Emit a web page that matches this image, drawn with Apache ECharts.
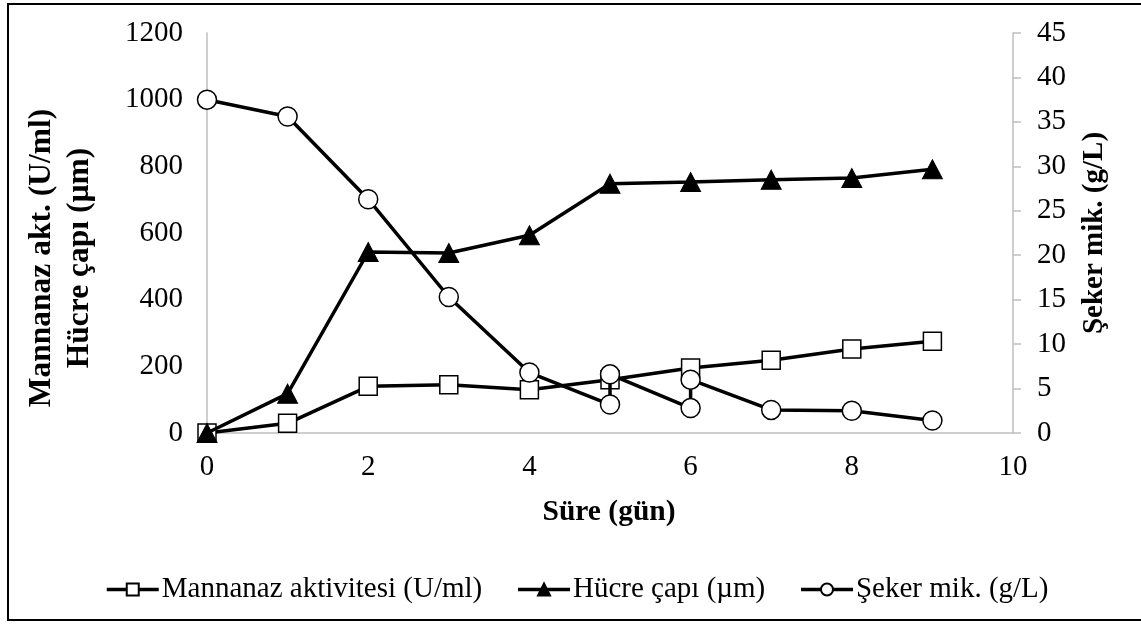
<!DOCTYPE html>
<html>
<head>
<meta charset="utf-8">
<script src="https://cdn.jsdelivr.net/npm/echarts@6/dist/echarts.min.js"></script>
<style>
html,body{margin:0;padding:0;background:#fff;}
#c{width:1141px;height:624px;}
</style>
</head>
<body>
<div id="c"></div>
<script>
// Data
const days = [0, 1, 2, 3, 4, 5, 6, 7, 8, 9];
const mannanaz = [0, 29, 140, 145, 130, 160, 195, 218, 252, 275];
const hucre = [0, 118, 543, 540, 593, 748, 753, 760, 765, 791];
const sekerDays = [0, 1, 2, 3, 4, 5, 5, 6, 6, 7, 8, 9];
const seker = [37.5, 35.6, 26.3, 15.3, 6.8, 3.2, 6.6, 2.8, 6.0, 2.6, 2.5, 1.4];
const xTicks = [0, 2, 4, 6, 8, 10];
const leftTicks = [0, 200, 400, 600, 800, 1000, 1200];
const rightTicks = [0, 5, 10, 15, 20, 25, 30, 35, 40, 45];
const names = ['Mannanaz aktivitesi (U/ml)', 'Hücre çapı (µm)', 'Şeker mik. (g/L)'];

const FONT = "'Liberation Serif', 'Times New Roman', serif";
const chart = echarts.init(document.getElementById('c'), null, {renderer: 'canvas'});
const pair = (xs, ys) => xs.map((x, i) => [x, ys[i]]);
const axisGray = '#BFBFBF';
const plain = v => String(v);

chart.setOption({
  animation: false,
  backgroundColor: '#fff',
  textStyle: {fontFamily: FONT, color: '#000'},
  grid: {left: 207, right: 128, top: 33, bottom: 191, containLabel: false},
  xAxis: {
    type: 'value', min: xTicks[0], max: xTicks[xTicks.length - 1], interval: 2,
    axisLine: {show: true, onZero: false, lineStyle: {color: axisGray, width: 1.5}},
    axisTick: {show: false},
    splitLine: {show: false},
    axisLabel: {fontFamily: FONT, fontSize: 29, color: '#000', margin: 20, formatter: plain}
  },
  yAxis: [
    {
      type: 'value', min: leftTicks[0], max: leftTicks[leftTicks.length - 1], interval: 200,
      axisLine: {show: true, onZero: false, lineStyle: {color: axisGray, width: 1.5}},
      axisTick: {show: false},
      splitLine: {show: false},
      axisLabel: {fontFamily: FONT, fontSize: 29, color: '#000', margin: 24, formatter: plain}
    },
    {
      type: 'value', position: 'right', min: rightTicks[0], max: rightTicks[rightTicks.length - 1], interval: 5,
      axisLine: {show: true, onZero: false, lineStyle: {color: axisGray, width: 1.5}},
      axisTick: {show: true, inside: false, length: 8, lineStyle: {color: axisGray, width: 1.5}},
      splitLine: {show: false},
      axisLabel: {fontFamily: FONT, fontSize: 29, color: '#000', margin: 24, formatter: plain}
    }
  ],
  legend: {
    left: 100, top: 570,
    itemWidth: 52, itemHeight: 15, itemGap: 34,
    lineStyle: {width: 3.5, color: '#000'},
    textStyle: {fontFamily: FONT, fontSize: 29, color: '#000', padding: [0, 0, 0, -2]},
    data: names
  },
  series: [
    {
      name: names[0], type: 'line', yAxisIndex: 0, z: 2,
      data: pair(days, mannanaz),
      symbol: 'rect', symbolSize: 18,
      itemStyle: {color: '#fff', borderColor: '#000', borderWidth: 1.5},
      lineStyle: {color: '#000', width: 3.5}
    },
    {
      name: names[1], type: 'line', yAxisIndex: 0, z: 3,
      data: pair(days, hucre),
      symbol: 'triangle', symbolSize: [20, 19],
      itemStyle: {color: '#000', borderColor: '#000', borderWidth: 1},
      lineStyle: {color: '#000', width: 3.5}
    },
    {
      name: names[2], type: 'line', yAxisIndex: 1, z: 4,
      data: pair(sekerDays, seker),
      symbol: 'circle', symbolSize: 19,
      itemStyle: {color: '#fff', borderColor: '#000', borderWidth: 1.5},
      lineStyle: {color: '#000', width: 3.5}
    }
  ],
  graphic: [
    {type: 'rect', shape: {x: 8, y: 4, width: 1150, height: 616}, style: {fill: 'none', stroke: '#000', lineWidth: 2}, silent: true},
    {type: 'text', x: 42, y: 258, rotation: Math.PI / 2,
      style: {text: 'Mannanaz akt. (U/ml)', font: "bold 31.5px 'Liberation Serif', serif", fill: '#000', textAlign: 'center', textVerticalAlign: 'middle'}},
    {type: 'text', x: 80, y: 258, rotation: Math.PI / 2,
      style: {text: 'Hücre çapı (µm)', font: "bold 31.5px 'Liberation Serif', serif", fill: '#000', textAlign: 'center', textVerticalAlign: 'middle'}},
    {type: 'text', x: 1095, y: 233, rotation: Math.PI / 2,
      style: {text: 'Şeker mik. (g/L)', font: "bold 29px 'Liberation Serif', serif", fill: '#000', textAlign: 'center', textVerticalAlign: 'middle'}},
    {type: 'text', x: 609, y: 512,
      style: {text: 'Süre (gün)', font: "bold 29.5px 'Liberation Serif', serif", fill: '#000', textAlign: 'center', textVerticalAlign: 'middle'}}
  ]
});
</script>
</body>
</html>
